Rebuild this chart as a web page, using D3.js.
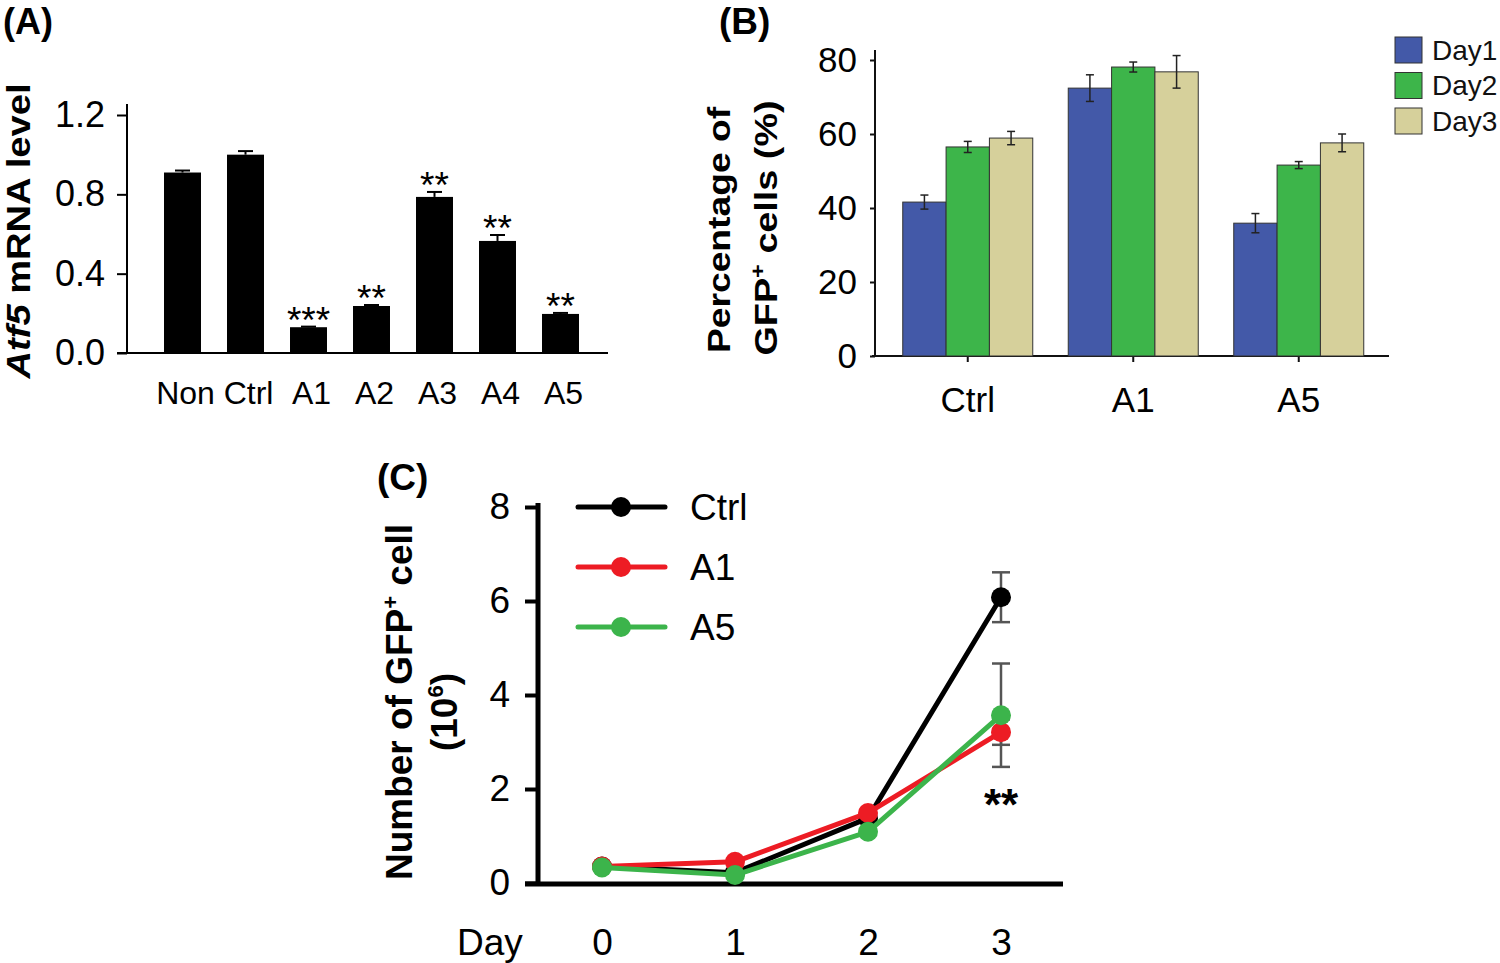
<!DOCTYPE html>
<html>
<head>
<meta charset="utf-8">
<script src="https://cdn.jsdelivr.net/npm/d3@7"></script>
<style>
  html, body { margin: 0; padding: 0; background: #fff; }
  svg { display: block; font-family: "Liberation Sans", Arial, Helvetica, sans-serif; }
</style>
</head>
<body>
<svg id="chart" width="1500" height="963"></svg>
<script>
// ---------- Panel A data ----------
const aCategories = ["Non", "Ctrl", "A1", "A2", "A3", "A4", "A5"];
const aValues = [0.91, 1.00, 0.13, 0.237, 0.787, 0.565, 0.197];
const aErrors = [0.01, 0.018, 0.003, 0.005, 0.025, 0.03, 0.005];
const aSignif = ["", "", "***", "**", "**", "**", "**"];
const aTicks = [0, 0.4, 0.8, 1.2];

// ---------- Panel B data ----------
const bCategories = ["Ctrl", "A1", "A5"];
const bSeries = ["Day1", "Day2", "Day3"];
const bDay1 = [41.6, 72.4, 35.9];
const bDay1Err = [1.9, 3.6, 2.6];
const bDay2 = [56.5, 78.1, 51.6];
const bDay2Err = [1.5, 1.35, 0.95];
const bDay3 = [58.9, 76.8, 57.6];
const bDay3Err = [1.8, 4.4, 2.4];
const bTicks = [0, 20, 40, 60, 80];
const bColors = ["#4359a8", "#3db54a", "#d6d09b"];

// ---------- Panel C data ----------
const cDays = [0, 1, 2, 3];
const cSeries = ["Ctrl", "A1", "A5"];
const cCtrl = [0.35, 0.22, 1.38, 6.08];
const cCtrlErr = [0, 0, 0, 0.53];
const cA1 = [0.35, 0.45, 1.49, 3.21];
const cA1Err = [0, 0, 0, 0.27];
const cA5 = [0.33, 0.17, 1.09, 3.57];
const cA5Err = [0, 0, 0, 1.1];
const cTicks = [0, 2, 4, 6, 8];
const cColors = ["#000000", "#ed1c24", "#3cb44b"];

const svg = d3.select("#chart");
const FONT = "Liberation Sans, Arial, sans-serif";

// ================= Panel A =================
(function () {
  const g = svg.append("g");
  const y = d3.scaleLinear().domain([0, 1.2]).range([353, 115]);
  const x = d3.scaleBand().domain(aCategories).range([151, 592])
    .paddingInner(0.413).paddingOuter(0.2065);

  const ya = g.append("g").attr("transform", "translate(127,0)")
    .call(d3.axisLeft(y).tickValues(aTicks).tickFormat(d3.format(".1f")).tickSize(10).tickPadding(12));
  ya.select(".domain").remove();
  ya.selectAll(".tick line").attr("stroke", "#000").attr("stroke-width", 2);
  ya.selectAll(".tick text").attr("font-size", 36).attr("fill", "#000").attr("font-family", FONT);
  g.append("line").attr("x1", 127).attr("x2", 127).attr("y1", y(0)).attr("y2", y(1.2) - 11)
    .attr("stroke", "#000").attr("stroke-width", 2);
  g.append("line").attr("x1", 117).attr("x2", 608).attr("y1", y(0)).attr("y2", y(0))
    .attr("stroke", "#000").attr("stroke-width", 2);

  const xa = g.append("g").attr("transform", `translate(3,${y(0)})`)
    .call(d3.axisBottom(x).tickSize(0).tickPadding(28));
  xa.select(".domain").remove();
  xa.selectAll(".tick text").attr("font-size", 32).attr("fill", "#000").attr("font-family", FONT);

  g.selectAll("rect.bar").data(aCategories).join("rect")
    .attr("x", d => x(d)).attr("width", x.bandwidth())
    .attr("y", (d, i) => y(aValues[i])).attr("height", (d, i) => y(0) - y(aValues[i]))
    .attr("fill", "#000");

  aCategories.forEach((d, i) => {
    const cx = x(d) + x.bandwidth() / 2;
    const top = y(aValues[i] + aErrors[i]);
    g.append("line").attr("x1", cx).attr("x2", cx).attr("y1", y(aValues[i])).attr("y2", top)
      .attr("stroke", "#000").attr("stroke-width", 2);
    g.append("line").attr("x1", cx - 7.5).attr("x2", cx + 7.5).attr("y1", top).attr("y2", top)
      .attr("stroke", "#000").attr("stroke-width", 2);
    if (aSignif[i]) {
      g.append("text").attr("x", cx).attr("y", top + 6).attr("text-anchor", "middle")
        .attr("font-size", 37).text(aSignif[i]);
    }
  });

  const t = g.append("text").attr("transform", "translate(30,231) rotate(-90)")
    .attr("text-anchor", "middle").attr("font-weight", "bold").attr("font-size", 33)
    .attr("textLength", 295).attr("lengthAdjust", "spacingAndGlyphs");
  t.append("tspan").attr("font-style", "italic").text("Atf5");
  t.append("tspan").text(" mRNA level");

  g.append("text").attr("x", 3).attr("y", 34).attr("font-weight", "bold").attr("font-size", 36).text("(A)");
})();

// ================= Panel B =================
(function () {
  const g = svg.append("g");
  const y = d3.scaleLinear().domain([0, 80]).range([356, 60]);
  const x = d3.scaleBand().domain(bCategories).range([885, 1381.5])
    .paddingInner(0.2145).paddingOuter(0.10725);
  const xs = d3.scaleBand().domain(bSeries).range([0, x.bandwidth()]);
  const vals = [bDay1, bDay2, bDay3];
  const errs = [bDay1Err, bDay2Err, bDay3Err];

  const ya = g.append("g").attr("transform", "translate(875,0)")
    .call(d3.axisLeft(y).tickValues(bTicks).tickSize(5).tickPadding(13));
  ya.select(".domain").remove();
  ya.selectAll(".tick line").attr("stroke", "#111").attr("stroke-width", 2);
  ya.selectAll(".tick text").attr("font-size", 35).attr("fill", "#000").attr("font-family", FONT);
  g.append("line").attr("x1", 875).attr("x2", 875).attr("y1", y(0)).attr("y2", 50)
    .attr("stroke", "#111").attr("stroke-width", 2);

  const xa = g.append("g").attr("transform", `translate(0,${y(0)})`)
    .call(d3.axisBottom(x).tickSize(6).tickPadding(25));
  xa.select(".domain").remove();
  xa.selectAll(".tick line").attr("stroke", "#111").attr("stroke-width", 2);
  xa.selectAll(".tick text").attr("font-size", 35).attr("fill", "#000").attr("font-family", FONT);
  g.append("line").attr("x1", 872).attr("x2", 1389).attr("y1", y(0)).attr("y2", y(0))
    .attr("stroke", "#111").attr("stroke-width", 2);

  bSeries.forEach((s, si) => {
    bCategories.forEach((c, ci) => {
      const v = vals[si][ci], e = errs[si][ci];
      const bx = x(c) + xs(s);
      g.append("rect").attr("x", bx).attr("width", xs.bandwidth())
        .attr("y", y(v)).attr("height", y(0) - y(v))
        .attr("fill", bColors[si]).attr("stroke", "#333").attr("stroke-width", 1);
      const cx = bx + xs.bandwidth() / 2;
      g.append("line").attr("x1", cx).attr("x2", cx).attr("y1", y(v + e)).attr("y2", y(v - e))
        .attr("stroke", "#222").attr("stroke-width", 1.5);
      [v + e, v - e].forEach(q => {
        g.append("line").attr("x1", cx - 4).attr("x2", cx + 4).attr("y1", y(q)).attr("y2", y(q))
          .attr("stroke", "#222").attr("stroke-width", 1.5);
      });
    });
  });

  bSeries.forEach((s, i) => {
    const ly = 37 + i * 35.5;
    g.append("rect").attr("x", 1395).attr("y", ly).attr("width", 27).attr("height", 26)
      .attr("fill", bColors[i]).attr("stroke", "#333").attr("stroke-width", 1);
    g.append("text").attr("x", 1432).attr("y", ly + 13).attr("dy", "0.35em")
      .attr("font-size", 28).attr("fill", "#111").text(s);
  });

  g.append("text").attr("transform", "translate(730,230) rotate(-90)")
    .attr("text-anchor", "middle").attr("font-weight", "bold").attr("font-size", 32)
    .attr("textLength", 246).attr("lengthAdjust", "spacingAndGlyphs")
    .text("Percentage of");
  const t2 = g.append("text").attr("transform", "translate(777,228) rotate(-90)")
    .attr("text-anchor", "middle").attr("font-weight", "bold").attr("font-size", 32)
    .attr("textLength", 255).attr("lengthAdjust", "spacingAndGlyphs");
  t2.append("tspan").text("GFP");
  t2.append("tspan").attr("font-size", 20).attr("dy", -12).text("+");
  t2.append("tspan").attr("dy", 12).text(" cells (%)");

  g.append("text").attr("x", 719).attr("y", 34).attr("font-weight", "bold").attr("font-size", 37).text("(B)");
})();

// ================= Panel C =================
(function () {
  const g = svg.append("g");
  const x = d3.scaleLinear().domain([0, 3]).range([602, 1001]);
  const y = d3.scaleLinear().domain([0, 8]).range([883, 507]);
  const vals = [cCtrl, cA1, cA5];
  const errs = [cCtrlErr, cA1Err, cA5Err];

  const ya = g.append("g").attr("transform", "translate(538,0)")
    .call(d3.axisLeft(y).tickValues(cTicks).tickSize(13).tickPadding(15));
  ya.select(".domain").remove();
  ya.selectAll(".tick line").attr("stroke", "#000").attr("stroke-width", 4);
  ya.selectAll(".tick text").attr("font-size", 37).attr("fill", "#000").attr("font-family", FONT);
  g.append("line").attr("x1", 538).attr("x2", 538).attr("y1", y(0) + 2).attr("y2", y(8) - 4)
    .attr("stroke", "#000").attr("stroke-width", 5);
  g.append("line").attr("x1", 525).attr("x2", 1063).attr("y1", y(0) + 1).attr("y2", y(0) + 1)
    .attr("stroke", "#000").attr("stroke-width", 5);

  const xa = g.append("g").attr("transform", `translate(0,${y(0)})`)
    .call(d3.axisBottom(x).tickValues(cDays).tickFormat(d3.format("d")).tickSize(0).tickPadding(46));
  xa.select(".domain").remove();
  xa.selectAll(".tick text").attr("font-size", 37).attr("fill", "#000").attr("font-family", FONT);
  g.append("text").attr("x", 457).attr("y", 955).attr("font-size", 37).text("Day");

  vals.forEach((v, si) => {
    cDays.forEach((d, di) => {
      const e = errs[si][di];
      if (!e) return;
      const cx = x(d);
      g.append("line").attr("x1", cx).attr("x2", cx).attr("y1", y(v[di] + e)).attr("y2", y(v[di] - e))
        .attr("stroke", "#555").attr("stroke-width", 2.5);
      [v[di] + e, v[di] - e].forEach(q => {
        g.append("line").attr("x1", cx - 9).attr("x2", cx + 9).attr("y1", y(q)).attr("y2", y(q))
          .attr("stroke", "#555").attr("stroke-width", 2.5);
      });
    });
  });

  const line = d3.line().x((d, i) => x(cDays[i])).y(d => y(d));
  vals.forEach((v, si) => {
    g.append("path").attr("d", line(v)).attr("fill", "none")
      .attr("stroke", cColors[si]).attr("stroke-width", 5).attr("stroke-linejoin", "round");
    g.selectAll(null).data(v).join("circle")
      .attr("cx", (d, i) => x(cDays[i])).attr("cy", d => y(d)).attr("r", 10)
      .attr("fill", cColors[si]);
  });

  cSeries.forEach((s, i) => {
    const ly = 507 + i * 60;
    g.append("line").attr("x1", 578).attr("x2", 665).attr("y1", ly).attr("y2", ly)
      .attr("stroke", cColors[i]).attr("stroke-width", 5).attr("stroke-linecap", "round");
    g.append("circle").attr("cx", 621).attr("cy", ly).attr("r", 10).attr("fill", cColors[i]);
    g.append("text").attr("x", 690).attr("y", ly).attr("dy", "0.35em").attr("font-size", 37).text(s);
  });

  g.append("text").attr("x", x(3)).attr("y", 820).attr("text-anchor", "middle")
    .attr("font-weight", "bold").attr("font-size", 44).text("**");

  const t1 = g.append("text").attr("transform", "translate(412,702) rotate(-90)")
    .attr("text-anchor", "middle").attr("font-weight", "bold").attr("font-size", 37);
  t1.append("tspan").text("Number of GFP");
  t1.append("tspan").attr("font-size", 22).attr("dy", -14).text("+");
  t1.append("tspan").attr("dy", 14).text(" cell");
  const t2 = g.append("text").attr("transform", "translate(457,712) rotate(-90)")
    .attr("text-anchor", "middle").attr("font-weight", "bold").attr("font-size", 37);
  t2.append("tspan").text("(10");
  t2.append("tspan").attr("font-size", 22).attr("dy", -14).text("6");
  t2.append("tspan").attr("dy", 14).text(")");

  g.append("text").attr("x", 377).attr("y", 490).attr("font-weight", "bold").attr("font-size", 37).text("(C)");
})();
</script>
</body>
</html>
